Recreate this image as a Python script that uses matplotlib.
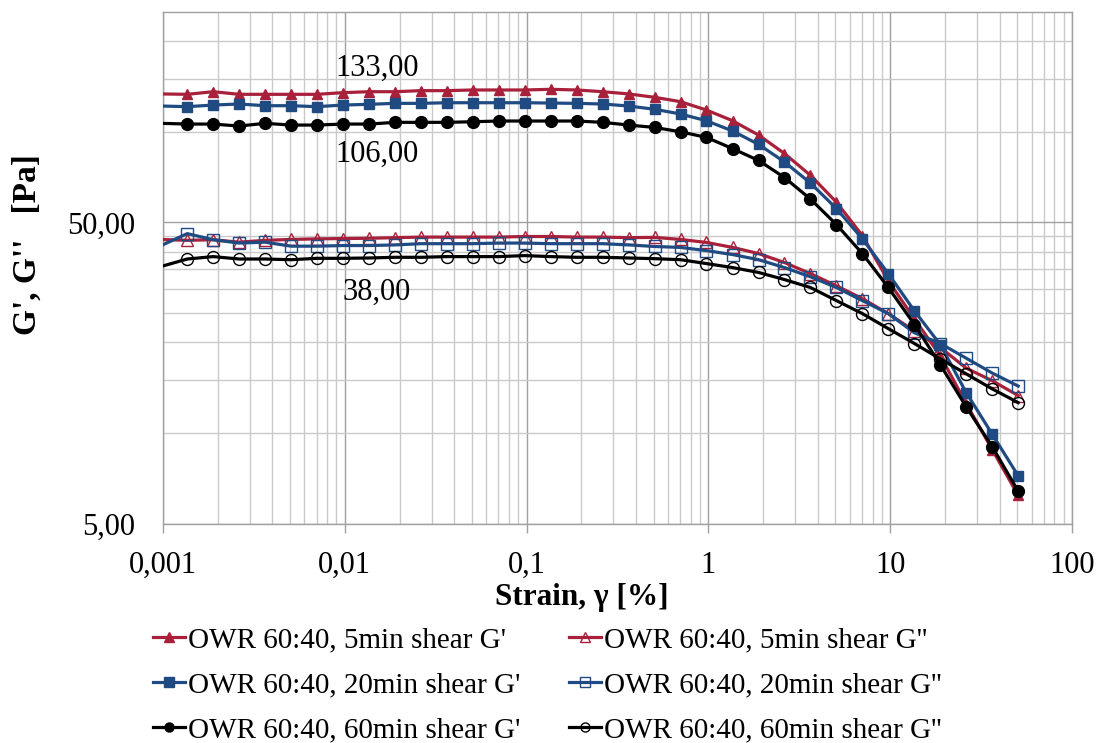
import matplotlib
matplotlib.use("Agg")
import matplotlib.pyplot as plt
from matplotlib.ticker import FixedLocator, NullFormatter, LogLocator, FuncFormatter

# ---------------- data ----------------
strain = [0.000976, 0.00136, 0.00189, 0.00262, 0.00364, 0.00506, 0.00703, 0.00976,
          0.0136, 0.0189, 0.0262, 0.0364, 0.0506, 0.0703, 0.0976,
          0.136, 0.189, 0.262, 0.364, 0.506, 0.703, 0.976,
          1.36, 1.89, 2.62, 3.64, 5.06, 7.03, 9.76,
          13.6, 18.9, 26.2, 36.4, 50.6]

g1_5min = [133.6, 133.2, 135.9, 133.2, 133.2, 133.2, 133.2, 134.9, 135.9, 135.9, 137.0, 137.0,
           137.7, 137.7, 137.7, 138.4, 137.7, 135.9, 133.6, 130.2, 125.9, 118.1, 108.8, 97.5,
           84.7, 71.7, 58.4, 45.2, 32.0, 23.9, 18.0, 12.5, 8.8, 6.2]
g2_5min = [43.9, 43.6, 43.8, 43.0, 43.6, 43.9, 44.1, 44.2, 44.3, 44.5, 44.7, 44.7,
           44.7, 44.7, 44.9, 44.9, 44.7, 44.7, 44.5, 44.6, 43.9, 42.9, 41.3, 39.4,
           36.8, 33.8, 30.8, 27.9, 24.9, 21.8, 19.2, 16.4, 14.9, 13.3]
g1_20min = [121.8, 121.2, 122.7, 123.7, 122.1, 122.1, 121.2, 122.7, 123.4, 124.3, 124.3, 124.9,
            124.9, 124.9, 124.9, 124.6, 124.3, 123.7, 121.8, 118.8, 114.6, 108.8, 100.6, 90.8,
            79.4, 67.6, 55.6, 44.1, 33.8, 25.4, 19.6, 13.6, 9.9, 7.2]
g2_20min = [41.9, 45.9, 43.8, 42.7, 43.0, 41.7, 41.7, 41.9, 41.9, 42.1, 42.5, 42.5,
            42.5, 42.7, 42.7, 42.5, 42.5, 42.5, 42.1, 41.6, 41.3, 40.3, 39.1, 37.6,
            35.4, 33.0, 30.4, 27.5, 24.9, 21.5, 19.8, 17.7, 15.8, 14.3]
g1_60min = [106.7, 106.1, 106.1, 104.5, 106.7, 105.3, 105.3, 106.1, 106.1, 107.5, 107.5, 107.5,
            108.0, 108.6, 108.6, 108.6, 108.6, 107.5, 105.3, 103.4, 100.0, 95.8, 87.9, 80.3,
            70.5, 59.8, 49.2, 39.4, 30.4, 22.9, 16.8, 12.2, 9.0, 6.4]
g2_60min = [35.7, 37.8, 38.5, 37.8, 37.8, 37.6, 38.0, 38.0, 38.1, 38.3, 38.3, 38.5,
            38.5, 38.5, 38.8, 38.5, 38.3, 38.3, 38.1, 37.9, 37.6, 36.5, 35.4, 34.1,
            32.3, 30.4, 27.5, 24.9, 22.2, 19.8, 17.6, 15.7, 14.0, 12.6]

labels = ["OWR 60:40, 5min shear G'", "OWR 60:40, 5min shear G''",
          "OWR 60:40, 20min shear G'", "OWR 60:40, 20min shear G''",
          "OWR 60:40, 60min shear G'", "OWR 60:40, 60min shear G''"]

annotations = [("133,00", 0.015, 163.0), ("106,00", 0.015, 84.0), ("38,00", 0.015, 29.3)]

x_ticks = [0.001, 0.01, 0.1, 1, 10, 100]
x_ticklabels = ["0,001", "0,01", "0,1", "1", "10", "100"]
y_ticks = [5, 50]
y_ticklabels = ["5,00", "50,00"]
y_minor = [10, 15, 20, 25, 30, 35, 40, 45, 100, 150, 200]

# ---------------- style ----------------
plt.rcParams['font.family'] = ['Liberation Serif', 'DejaVu Serif']
RED = '#A8203A'
BLUE = '#1F4B82'
BLACK = '#000000'
FS = 22
LFS = 21

fig = plt.figure(figsize=(11, 7.43), dpi=100)
ax = fig.add_axes([163/1100, 1-523.5/743, 909/1100, 511.5/743])
ax.set_xscale('log')
ax.set_yscale('log')
ax.set_xlim(0.001, 100)
ax.set_ylim(5, 250)

mk = dict(markevery=slice(1, None), lw=2.3, clip_on=True)
series = [
    (g1_5min, RED, '^', True), (g2_5min, RED, '^', False),
    (g1_20min, BLUE, 's', True), (g2_20min, BLUE, 's', False),
    (g1_60min, BLACK, 'o', True), (g2_60min, BLACK, 'o', False),
]
handles = []
for (vals, col, m, filled), lab in zip(series, labels):
    if filled:
        ms = 8.5 if m == 'o' else 7.6
        h, = ax.plot(strain, vals, color=col, marker=m, ms=ms, mfc=col, mec=col,
                     label=lab, zorder=3, **mk)
    else:
        ms = 8.6
        h, = ax.plot(strain, vals, color=col, marker=m, ms=ms, mfc='none', mec=col,
                     mew=1.0, label=lab, zorder=3, **mk)
    handles.append(h)

for txt, xv, yv in annotations:
    ax.text(xv, yv, txt, ha='center', va='center', fontsize=FS, zorder=4)

ax.xaxis.set_major_locator(FixedLocator(x_ticks))
ax.xaxis.set_major_formatter(FuncFormatter(lambda v, p: x_ticklabels[x_ticks.index(min(x_ticks, key=lambda t: abs(t - v)))]))
ax.xaxis.set_minor_locator(LogLocator(base=10, subs=[2, 3, 4, 5, 6, 7, 8, 9], numticks=50))
ax.xaxis.set_minor_formatter(NullFormatter())
ax.yaxis.set_major_locator(FixedLocator(y_ticks))
ax.set_yticklabels(y_ticklabels)
ax.yaxis.set_minor_locator(FixedLocator(y_minor))
ax.yaxis.set_minor_formatter(NullFormatter())

ax.grid(which='major', color='#A0A0A0', lw=1.0, zorder=0)
ax.grid(which='minor', color='#CACACA', lw=1.0, zorder=0)
ax.set_axisbelow(True)
for s in ax.spines.values():
    s.set_color('#A0A0A0')
    s.set_linewidth(1.0)

ax.tick_params(axis='x', which='major', length=6.5, width=1, color='#A0A0A0',
               labelsize=FS, pad=13, direction='out')
ax.tick_params(axis='y', which='major', length=0, labelsize=FS, pad=20)
ax.tick_params(which='minor', length=0)

fig.text(582/1100, 1-598/743, "Strain, \u03b3 [%]", ha='center', va='center',
         fontsize=22.5, fontweight='bold')
fig.text(27/1100, 1-245/743, "G', G''   [Pa]", ha='center', va='center',
         rotation=90, fontsize=24, fontweight='bold')

order = [0, 2, 4, 1, 3, 5]
leg = fig.legend([handles[i] for i in order], [labels[i] for i in order],
                 ncol=2, loc='upper left', bbox_to_anchor=(153/1100, 1-627/743),
                 frameon=False, fontsize=LFS, handlelength=1.1, handletextpad=0.1,
                 columnspacing=1.65, labelspacing=0.64, borderpad=0, borderaxespad=0)
for lh in leg.legend_handles:
    lh.set_markersize(6.5)

fig.savefig('out.png', dpi=100)
